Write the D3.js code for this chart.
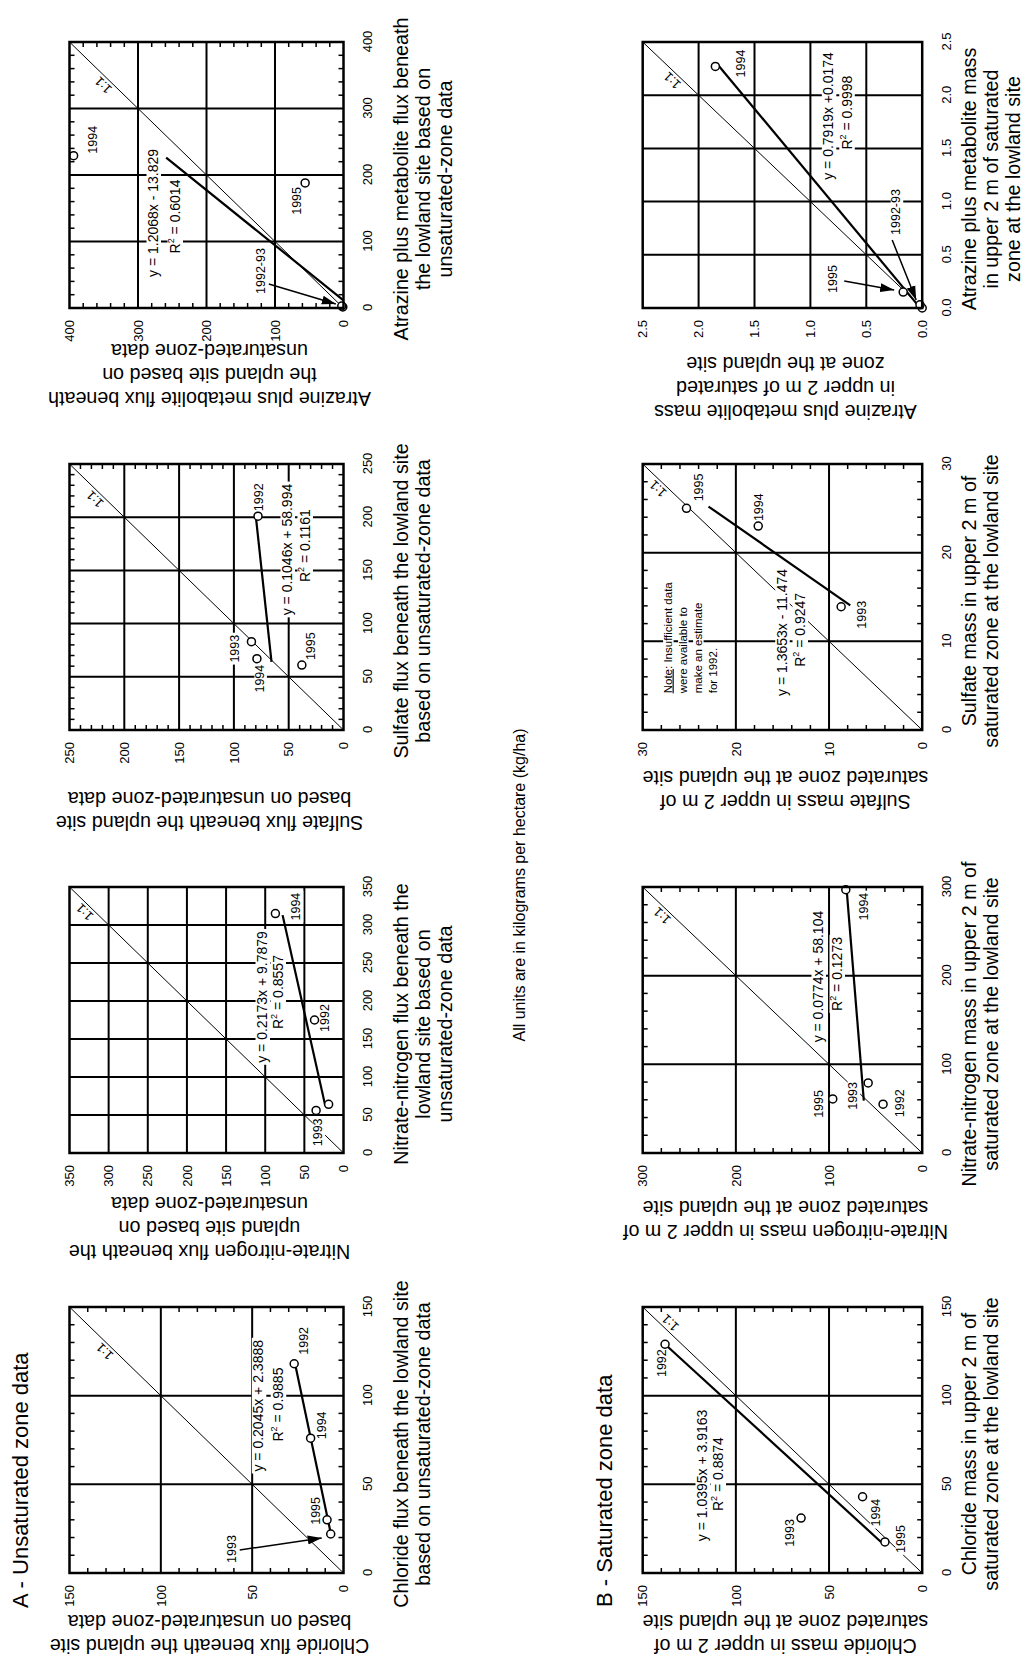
<!DOCTYPE html>
<html><head><meta charset="utf-8">
<script src="https://cdn.jsdelivr.net/npm/d3@7"></script>
<style>body{margin:0;background:#fff}svg{display:block}</style>
</head><body>
<script>
// ---------------- DATA ----------------
const years = ['1992', '1993', '1994', '1995'];
const yearsSulfateSat = ['1993', '1994', '1995'];

// A - Unsaturated zone data (x = lowland site, y = upland site), order = years
const chlorideUnsatLowland = [118, 22, 76, 30];
const chlorideUnsatUpland  = [27, 7, 18, 9];
const nitrateUnsatLowland  = [175, 56, 315, 64];
const nitrateUnsatUpland   = [37, 35, 87, 19];
const sulfateUnsatLowland  = [201, 83, 67, 61];
const sulfateUnsatUpland   = [78, 84, 79, 38];
const atrazineUnsatLowland = [1.5, 3, 229, 188];
const atrazineUnsatUpland  = [1, 2.5, 394, 56];

// B - Saturated zone data
const chlorideSatLowland = [129, 31, 43, 17.5];
const chlorideSatUpland  = [138, 65, 32, 20];
const nitrateSatLowland  = [55, 79, 297, 61];
const nitrateSatUpland   = [42, 58, 82, 96];
const sulfateSatLowland  = [13.9, 23, 25];
const sulfateSatUpland   = [8.7, 17.6, 25.3];
const atrazineSatLowland = [0, 0.03, 2.27, 0.15];
const atrazineSatUpland  = [0, 0.02, 1.85, 0.17];

// point labels
const labelsStd = ['1992', '1993', '1994', '1995'];
const labelsNitrateUnsat = ['1992', '1993', '1994', ''];
const labelsAtrazine = ['1992-93', '', '1994', '1995'];

// regression results printed on the chart (A chloride, A nitrate, A sulfate, A atrazine, B ...)
const regSlopes     = [0.2045, 0.2173, 0.1046, 1.2068, 1.0395, 0.0774, 1.3653, 0.7919];
const regIntercepts = [2.3888, 9.7879, 58.994, -13.829, 3.9163, 58.104, -11.474, 0.0174];
const regEqText = ['y = 0.2045x + 2.3888', 'y = 0.2173x + 9.7879', 'y = 0.1046x + 58.994', 'y = 1.2068x - 13.829',
                   'y = 1.0395x + 3.9163', 'y = 0.0774x + 58.104', 'y = 1.3653x - 11.474', 'y = 0.7919x +0.0174'];
const r2Values = ['0.9885', '0.8557', '0.1161', '0.6014', '0.8874', '0.1273', '0.9247', '0.9998'];

// tick labels
const ticksChloride      = [0, 50, 100, 150];
const ticksNitrateUnsat  = [0, 50, 100, 150, 200, 250, 300, 350];
const ticksSulfateUnsat  = [0, 50, 100, 150, 200, 250];
const ticksAtrazineUnsat = [0, 100, 200, 300, 400];
const ticksNitrateSat    = [0, 100, 200, 300];
const ticksSulfateSat    = [0, 10, 20, 30];
const ticksAtrazineSat   = [0, 0.5, 1.0, 1.5, 2.0, 2.5];

const noteLines = ['Insufficient data', 'were available to', 'make an estimate', 'for 1992.'];

// ---------------- LAYOUT ----------------
const FONT = "'Liberation Sans', Arial, Helvetica, sans-serif";
const colLeft = [84, 504, 927, 1349];
const boxW = 266;
const rowTop = [69.5, 642.7];
const rowH = [274, 279.5];
const xTitleBase = [408, 976];

const fmtInt = d3.format('d');
const fmtDec = d3.format('.1f');

const panels = [
  {row:0, col:0, max:150, ticks:ticksChloride, minor:10, xs:chlorideUnsatLowland, ys:chlorideUnsatUpland, labels:labelsStd,
   lp:[{a:'start',dx:9,dy:14},{a:'middle',dx:-15,dy:-95,from:[-16,-91],to:[-4,-9]},{a:'start',dx:-1,dy:15},{a:'start',dx:-5,dy:-7}],
   reg:0, regRange:[22,118], eqAt:[94.3,43.9], r2At:[95,33], one:{t:0.853, side:1},
   xTitle:['Chloride flux beneath the lowland site','based on unsaturated-zone data'],
   yTitle:['Chloride flux beneath the upland site','based on unsaturated-zone data'], yBase:42, fmt:fmtInt},
  {row:0, col:1, max:350, ticks:ticksNitrateUnsat, minor:null, xs:nitrateUnsatLowland, ys:nitrateUnsatUpland, labels:labelsNitrateUnsat,
   lp:[{a:'middle',dx:2,dy:14},{a:'end',dx:-8,dy:6},{a:'middle',dx:7,dy:25},null],
   reg:1, regRange:[62,313], eqAt:[205.3,97.7], r2At:[211.8,77.3], one:{t:0.926, side:1},
   xTitle:['Nitrate-nitrogen flux beneath the','lowland site based on','unsaturated-zone data'],
   yTitle:['Nitrate-nitrogen flux beneath the','upland site based on','unsaturated-zone data'], yBase:460, fmt:fmtInt},
  {row:0, col:2, max:250, ticks:ticksSulfateUnsat, minor:10, xs:sulfateUnsatLowland, ys:sulfateUnsatUpland, labels:labelsStd,
   lp:[{a:'start',dx:5,dy:5},{a:'middle',dx:-7,dy:-12},{a:'end',dx:-6,dy:7},{a:'start',dx:5,dy:13}],
   reg:2, regRange:[64,201], eqAt:[169.6,47], r2At:[173.3,30.6], one:{t:0.888, side:1},
   xTitle:['Sulfate flux beneath the lowland site','based on unsaturated-zone data'],
   yTitle:['Sulfate flux beneath the upland site','based on unsaturated-zone data'], yBase:865, fmt:fmtInt},
  {row:0, col:3, max:400, ticks:ticksAtrazineUnsat, minor:20, xs:atrazineUnsatLowland, ys:atrazineUnsatUpland, labels:labelsAtrazine,
   lp:[{a:'middle',dx:36,dy:-78,from:[23,-74],to:[3,-7]},null,{a:'start',dx:2,dy:23},{a:'end',dx:-4,dy:-4}],
   reg:3, regRange:[11.46,226], eqAt:[142.9,270.8], r2At:[137.6,238.7], one:{t:0.858, side:1},
   xTitle:['Atrazine plus metabolite flux beneath','the lowland site based on','unsaturated-zone data'],
   yTitle:['Atrazine plus metabolite flux beneath','the upland site based on','unsaturated-zone data'], yBase:1313, fmt:fmtInt},
  {row:1, col:0, max:150, ticks:ticksChloride, minor:10, xs:chlorideSatLowland, ys:chlorideSatUpland, labels:labelsStd,
   lp:[{a:'end',dx:-5,dy:1},{a:'end',dx:-1,dy:-7},{a:'end',dx:-2,dy:17},{a:'middle',dx:3,dy:20}],
   reg:4, regRange:[17.5,129], eqAt:[55,115.5], r2At:[55.8,106.9], one:{t:0.92, side:-1},
   xTitle:['Chloride mass in upper 2 m of','saturated zone at the lowland site'],
   yTitle:['Chloride mass in upper 2 m of','saturated zone at the upland site'], yBase:42, fmt:fmtInt},
  {row:1, col:1, max:300, ticks:ticksNitrateSat, minor:20, xs:nitrateSatLowland, ys:nitrateSatUpland, labels:labelsStd,
   lp:[{a:'middle',dx:1,dy:21},{a:'end',dx:1,dy:-11},{a:'end',dx:-3,dy:22},{a:'middle',dx:-5,dy:-10}],
   reg:5, regRange:[59,297], eqAt:[199,106.5], r2At:[201.9,86.1], one:{t:0.9125, side:1},
   xTitle:['Nitrate-nitrogen mass in upper 2 m of','saturated zone at the lowland site'],
   yTitle:['Nitrate-nitrogen mass in upper 2 m of','saturated zone at the upland site'], yBase:456, fmt:fmtInt},
  {row:1, col:2, max:30, ticks:ticksSulfateSat, minor:2, xs:sulfateSatLowland, ys:sulfateSatUpland, labels:yearsSulfateSat,
   lp:[{a:'middle',dx:-8,dy:25},{a:'start',dx:5,dy:5},{a:'start',dx:7,dy:17}],
   reg:6, regRange:[14.06,25.2], eqAt:[11,14.54], r2At:[11.3,12.58], one:{t:0.927, side:1}, note:true,
   xTitle:['Sulfate mass in upper 2 m of','saturated zone at the lowland site'],
   yTitle:['Sulfate mass in upper 2 m of','saturated zone at the upland site'], yBase:886, fmt:fmtInt},
  {row:1, col:3, max:2.5, ticks:ticksAtrazineSat, minor:null, xs:atrazineSatLowland, ys:atrazineSatUpland, labels:labelsAtrazine,
   lp:[{a:'middle',dx:96,dy:-22,from:[68,-30],to:[8,-6]},null,{a:'middle',dx:3,dy:30},{a:'middle',dx:13,dy:-66,from:[11,-59],to:[2,-9]}],
   reg:7, regRange:[0.02,2.27], eqAt:[1.805,0.795], r2At:[1.837,0.63], one:{t:0.876, side:1},
   xTitle:['Atrazine plus metabolite mass','in upper 2 m of saturated','zone at the lowland site'],
   yTitle:['Atrazine plus metabolite mass','in upper 2 m of saturated','zone at the upland site'], yBase:1300, fmt:fmtDec}
];

// ---------------- DRAW ----------------
const svg = d3.select('body').append('svg').attr('width', 1031).attr('height', 1657);
svg.append('rect').attr('width', 1031).attr('height', 1657).attr('fill', '#fff');
const defs = svg.append('defs');
defs.append('marker').attr('id', 'ah').attr('viewBox', '0 -5 14 10').attr('refX', 14).attr('refY', 0)
  .attr('markerWidth', 14).attr('markerHeight', 10).attr('markerUnits', 'userSpaceOnUse').attr('orient', 'auto')
  .append('path').attr('d', 'M0,-4.5L14,0L0,4.5Z').attr('fill', '#000');

const root = svg.append('g').attr('transform', 'translate(0,1657) rotate(-90)')
  .attr('font-family', FONT).attr('fill', '#000');

function addText(gTxt, gBg, x, y, str, anchor, size, withBg) {
  const t = gTxt.append('text').attr('x', x).attr('y', y).attr('text-anchor', anchor).attr('font-size', size).text(str);
  if (withBg) bgFor(t, gBg);
  return t;
}
function bgFor(t, gBg) {
  const b = t.node().getBBox();
  gBg.append('rect').attr('x', b.x - 2).attr('y', b.y + 1.5).attr('width', b.width + 4).attr('height', b.height - 1.5).attr('fill', '#fff');
}

panels.forEach(p => {
  const left = colLeft[p.col], top = rowTop[p.row], w = boxW, h = rowH[p.row];
  const x = d3.scaleLinear().domain([0, p.max]).range([left, left + w]);
  const y = d3.scaleLinear().domain([0, p.max]).range([top + h, top]);
  const g = root.append('g');
  const gGrid = g.append('g'), gOne = g.append('g'), gBg = g.append('g'), gReg = g.append('g'),
        gPts = g.append('g'), gTxt = g.append('g'), gFrame = g.append('g');

  // minor ticks (inside, all four sides)
  if (p.minor) {
    const eps = p.max * 1e-6;
    const minors = d3.range(p.minor, p.max - eps, p.minor).filter(v => !p.ticks.some(t => Math.abs(t - v) < eps));
    const tl = 5;
    minors.forEach(v => {
      gGrid.append('line').attr('x1', x(v)).attr('x2', x(v)).attr('y1', top + h).attr('y2', top + h - tl);
      gGrid.append('line').attr('x1', x(v)).attr('x2', x(v)).attr('y1', top).attr('y2', top + tl);
      gGrid.append('line').attr('y1', y(v)).attr('y2', y(v)).attr('x1', left).attr('x2', left + tl);
      gGrid.append('line').attr('y1', y(v)).attr('y2', y(v)).attr('x1', left + w).attr('x2', left + w - tl);
    });
    gGrid.selectAll('line').attr('stroke', '#000').attr('stroke-width', 1.5);
  }
  // grid lines
  const inner = p.ticks.slice(1, -1);
  inner.forEach(v => {
    gGrid.append('line').attr('class', 'grid').attr('x1', x(v)).attr('x2', x(v)).attr('y1', top).attr('y2', top + h);
    gGrid.append('line').attr('class', 'grid').attr('y1', y(v)).attr('y2', y(v)).attr('x1', left).attr('x2', left + w);
  });
  gGrid.selectAll('line.grid').attr('stroke', '#000').attr('stroke-width', 2);

  // 1:1 line
  gOne.append('line').attr('x1', x(0)).attr('y1', y(0)).attr('x2', x(p.max)).attr('y2', y(p.max))
    .attr('stroke', '#000').attr('stroke-width', 1);
  const ang = -Math.atan2(h, w) * 180 / Math.PI;
  const ov = p.one.t * p.max;
  gOne.append('text').attr('transform', `translate(${x(ov)},${y(ov)}) rotate(${ang})`)
    .attr('y', p.one.side > 0 ? -3 : 12).attr('text-anchor', 'middle').attr('font-size', 13).text('1:1');

  // regression line
  const m = regSlopes[p.reg], b0 = regIntercepts[p.reg];
  gReg.append('line').attr('x1', x(p.regRange[0])).attr('y1', y(m * p.regRange[0] + b0))
    .attr('x2', x(p.regRange[1])).attr('y2', y(m * p.regRange[1] + b0))
    .attr('stroke', '#000').attr('stroke-width', 2.2);

  // points
  p.xs.forEach((xv, i) => {
    gPts.append('circle').attr('cx', x(xv)).attr('cy', y(p.ys[i])).attr('r', 4)
      .attr('fill', '#fff').attr('stroke', '#000').attr('stroke-width', 1.5);
  });
  // point labels
  p.xs.forEach((xv, i) => {
    const L = p.lp[i];
    if (!L || !p.labels[i]) return;
    const px = x(xv), py = y(p.ys[i]);
    addText(gTxt, gBg, px + L.dx, py + L.dy, p.labels[i], L.a, 12.5, true);
    if (L.from) {
      gReg.append('line').attr('x1', px + L.from[0]).attr('y1', py + L.from[1])
        .attr('x2', px + L.to[0]).attr('y2', py + L.to[1])
        .attr('stroke', '#000').attr('stroke-width', 1.5).attr('marker-end', 'url(#ah)');
    }
  });

  // equation labels
  addText(gTxt, gBg, x(p.eqAt[0]), y(p.eqAt[1]), regEqText[p.reg], 'middle', 14, true);
  const r2 = gTxt.append('text').attr('x', x(p.r2At[0])).attr('y', y(p.r2At[1])).attr('text-anchor', 'middle').attr('font-size', 14);
  r2.append('tspan').text('R');
  r2.append('tspan').attr('font-size', 9).attr('dy', -6).text('2');
  r2.append('tspan').attr('dy', 6).text(' = ' + r2Values[p.reg]);
  bgFor(r2, gBg);

  // note
  if (p.note) {
    const nx = x(4.14), ny = y(26.9);
    noteLines.forEach((ln, i) => {
      const t = gTxt.append('text').attr('x', nx).attr('y', ny + i * 15).attr('font-size', 11.5);
      if (i === 0) {
        t.append('tspan').attr('text-decoration', 'underline').text('Note');
        t.append('tspan').text(': ' + ln);
      } else t.text(ln);
      bgFor(t, gBg);
    });
  }

  // axes tick labels
  const ax = g.append('g').attr('transform', `translate(0,${top + h})`)
    .call(d3.axisBottom(x).tickValues(p.ticks).tickSize(0).tickPadding(19.5).tickFormat(p.fmt));
  ax.select('.domain').remove();
  ax.attr('font-family', FONT).attr('font-size', 13);
  const ay = g.append('g').attr('transform', `translate(${left},0)`)
    .call(d3.axisLeft(y).tickValues(p.ticks).tickSize(0).tickPadding(12).tickFormat(p.fmt));
  ay.select('.domain').remove();
  ay.attr('font-family', FONT).attr('font-size', 13);

  // axis titles
  const cx = left + w / 2 - 4;
  p.xTitle.forEach((ln, i) => {
    g.append('text').attr('x', cx).attr('y', xTitleBase[p.row] + i * 22).attr('text-anchor', 'middle')
      .attr('font-size', 19.7).text(ln);
  });
  const cy = top + h / 2 + 3, n = p.yTitle.length;
  p.yTitle.forEach((ln, i) => {
    const bx = p.yBase - (n - 1 - i) * 24;
    g.append('text').attr('transform', `translate(${bx},${cy}) rotate(-90)`).attr('text-anchor', 'middle')
      .attr('font-size', 19.7).text(ln);
  });

  // frame
  gFrame.append('rect').attr('x', left).attr('y', top).attr('width', w).attr('height', h)
    .attr('fill', 'none').attr('stroke', '#000').attr('stroke-width', 2.5);
});

// section titles and common note
root.append('text').attr('x', 49).attr('y', 28).attr('font-size', 22).text('A - Unsaturated zone data');
root.append('text').attr('x', 50).attr('y', 611.7).attr('font-size', 22).text('B - Saturated zone data');
root.append('text').attr('x', 772).attr('y', 525).attr('text-anchor', 'middle').attr('font-size', 16)
  .text('All units are in kilograms per hectare (kg/ha)');
</script>
</body></html>
